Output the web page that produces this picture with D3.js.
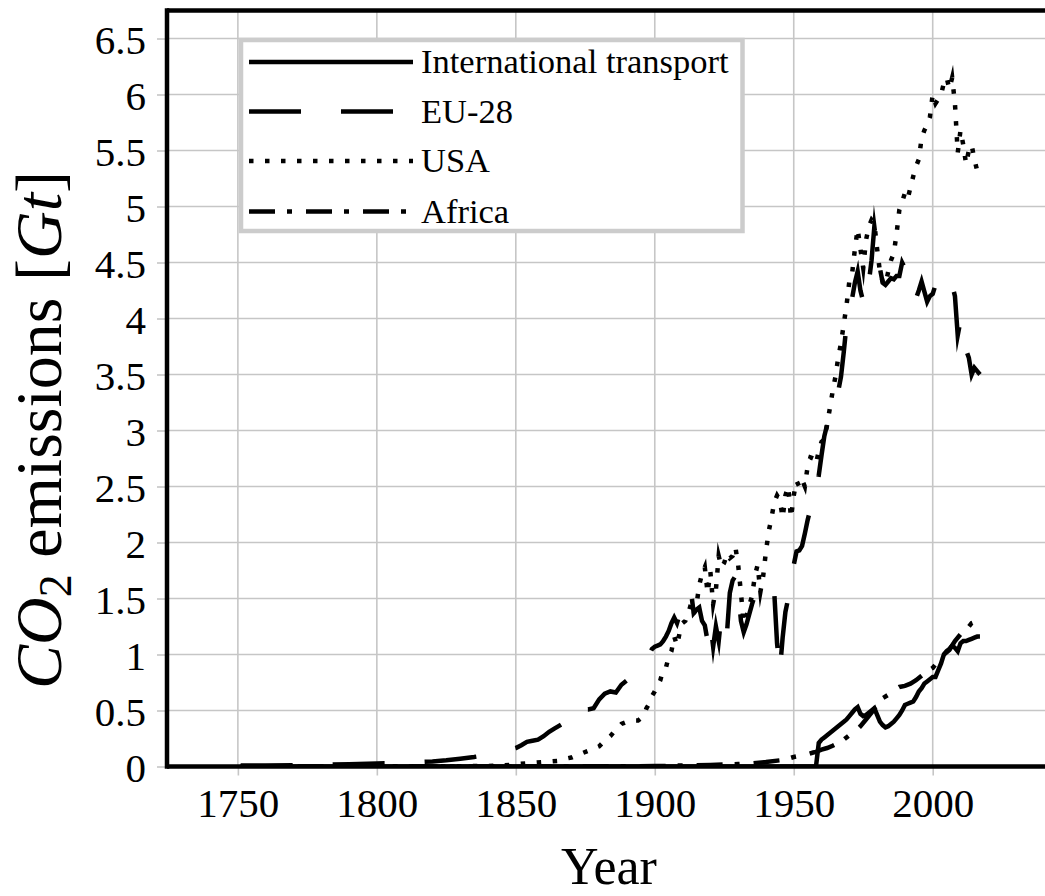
<!DOCTYPE html>
<html><head><meta charset="utf-8">
<script src="https://cdn.jsdelivr.net/npm/d3@7"></script>
<style>html,body{margin:0;padding:0;background:#fff;}svg{display:block;}</style>
</head><body>
<svg id="chart" width="1045" height="896"></svg>
<script>
// ---------------- data ----------------
const xTicks = [1750, 1800, 1850, 1900, 1950, 2000];
const yTicks = [0, 0.5, 1, 1.5, 2, 2.5, 3, 3.5, 4, 4.5, 5, 5.5, 6, 6.5];
const seriesNames = ["International transport", "EU-28", "USA", "Africa"];

const transportYears = [1751, 1958, 1959, 1960, 1961, 1962, 1963, 1964, 1965, 1966, 1967, 1968, 1969, 1970, 1971, 1972, 1973, 1974, 1975, 1976, 1977, 1978, 1979, 1980, 1981, 1982, 1983, 1984, 1985, 1986, 1987, 1988, 1989, 1990, 1991, 1992, 1993, 1994, 1995, 1996, 1997, 1998, 1999, 2000, 2001, 2002, 2003, 2004, 2005, 2006, 2007, 2008, 2009, 2010, 2011, 2012, 2013, 2014, 2015, 2016, 2017];
const transportValues = [0, 0, 0.21, 0.24, 0.26, 0.28, 0.30, 0.32, 0.34, 0.36, 0.38, 0.40, 0.42, 0.45, 0.48, 0.51, 0.53, 0.47, 0.45, 0.46, 0.48, 0.50, 0.52, 0.46, 0.40, 0.37, 0.35, 0.36, 0.38, 0.40, 0.43, 0.46, 0.50, 0.55, 0.56, 0.57, 0.58, 0.62, 0.67, 0.70, 0.74, 0.76, 0.78, 0.80, 0.80, 0.86, 0.92, 1.00, 1.03, 1.05, 1.08, 1.06, 1.03, 1.10, 1.12, 1.12, 1.13, 1.14, 1.15, 1.16, 1.16];

const euYears = [1751, 1760, 1770, 1780, 1790, 1800, 1810, 1820, 1825, 1830, 1835, 1840, 1845, 1850, 1852, 1854, 1856, 1858, 1860, 1862, 1864, 1866, 1868, 1870, 1872, 1874, 1876, 1878, 1880, 1882, 1884, 1886, 1888, 1890, 1892, 1894, 1896, 1897, 1898, 1899,
  1900, 1901, 1902, 1903, 1904, 1905, 1906, 1907, 1908, 1909, 1910, 1911, 1912, 1913, 1914, 1915, 1916, 1917, 1918, 1919, 1920, 1921, 1922, 1923, 1924, 1925, 1926, 1927, 1928, 1929, 1930, 1931, 1932, 1933, 1934, 1935, 1936, 1937, 1938, 1939, 1940, 1941, 1942, 1943, 1944, 1945, 1946, 1947, 1948, 1949, 1950, 1951, 1952, 1953, 1954, 1955, 1956, 1957, 1958, 1959, 1960, 1961, 1962, 1963, 1964, 1965, 1966, 1967, 1968, 1969, 1970, 1971, 1972, 1973, 1974, 1975, 1976, 1977, 1978, 1979, 1980, 1981, 1982, 1983, 1984, 1985, 1986, 1987, 1988, 1989, 1990, 1991, 1992, 1993, 1994, 1995, 1996, 1997, 1998, 1999, 2000, 2001, 2002, 2003, 2004, 2005, 2006, 2007, 2008, 2009, 2010, 2011, 2012, 2013, 2014, 2015, 2016, 2017];
const euValues = [0.009, 0.010, 0.012, 0.015, 0.020, 0.027, 0.032, 0.045, 0.055, 0.070, 0.085, 0.105, 0.130, 0.165, 0.19, 0.22, 0.23, 0.24, 0.27, 0.31, 0.34, 0.37, 0.40, 0.49, 0.44, 0.51, 0.51, 0.52, 0.60, 0.65, 0.67, 0.66, 0.73, 0.77, 0.80, 0.84, 0.90, 0.95, 1.00, 1.05,
  1.07, 1.08, 1.09, 1.12, 1.16, 1.21, 1.28, 1.33, 1.28, 1.36, 1.42, 1.45, 1.50, 1.57, 1.37, 1.40, 1.42, 1.30, 1.26, 1.12, 1.28, 1.07, 1.25, 1.12, 1.36, 1.33, 1.20, 1.55, 1.66, 1.70, 1.58, 1.30, 1.20, 1.27, 1.36, 1.45, 1.53, 1.62, 1.60, 1.62, 1.60, 1.60, 1.58, 1.55, 1.10, 0.85, 1.15, 1.38, 1.50, 1.65, 1.80, 1.92, 1.93, 1.97, 2.08, 2.20, 2.30, 2.35, 2.45, 2.60, 2.78, 2.95, 3.05, 3.15, 3.25, 3.30, 3.35, 3.48, 3.70, 3.95, 4.12, 4.18, 4.32, 4.42, 4.25, 4.15, 4.35, 4.32, 4.52, 4.82, 4.62, 4.45, 4.32, 4.30, 4.33, 4.36, 4.35, 4.38, 4.38, 4.50, 4.45, 4.40, 4.30, 4.18, 4.18, 4.25, 4.33, 4.24, 4.15, 4.20, 4.22, 4.30, 4.26, 4.34, 4.36, 4.33, 4.33, 4.30, 4.20, 3.85, 3.98, 3.76, 3.72, 3.65, 3.50, 3.56, 3.53, 3.50];

const usaYears = [1800, 1820, 1830, 1840, 1845, 1850, 1855, 1860, 1865, 1868, 1870, 1872, 1874, 1876, 1878, 1880, 1882, 1884, 1886, 1888, 1890, 1892, 1894, 1896, 1897, 1898, 1899,
  1900, 1901, 1902, 1903, 1904, 1905, 1906, 1907, 1908, 1909, 1910, 1911, 1912, 1913, 1914, 1915, 1916, 1917, 1918, 1919, 1920, 1921, 1922, 1923, 1924, 1925, 1926, 1927, 1928, 1929, 1930, 1931, 1932, 1933, 1934, 1935, 1936, 1937, 1938, 1939, 1940, 1941, 1942, 1943, 1944, 1945, 1946, 1947, 1948, 1949, 1950, 1951, 1952, 1953, 1954, 1955, 1956, 1957, 1958, 1959, 1960, 1961, 1962, 1963, 1964, 1965, 1966, 1967, 1968, 1969, 1970, 1971, 1972, 1973, 1974, 1975, 1976, 1977, 1978, 1979, 1980, 1981, 1982, 1983, 1984, 1985, 1986, 1987, 1988, 1989, 1990, 1991, 1992, 1993, 1994, 1995, 1996, 1997, 1998, 1999, 2000, 2001, 2002, 2003, 2004, 2005, 2006, 2007, 2008, 2009, 2010, 2011, 2012, 2013, 2014, 2015, 2016, 2017];
const usaValues = [0.0003, 0.001, 0.002, 0.005, 0.008, 0.02, 0.03, 0.04, 0.05, 0.07, 0.08, 0.10, 0.12, 0.14, 0.16, 0.18, 0.23, 0.27, 0.33, 0.38, 0.40, 0.41, 0.41, 0.45, 0.52, 0.56, 0.63,
  0.67, 0.72, 0.77, 0.86, 0.88, 0.98, 1.03, 1.16, 1.08, 1.20, 1.28, 1.30, 1.36, 1.45, 1.36, 1.44, 1.62, 1.72, 1.78, 1.55, 1.74, 1.45, 1.58, 1.88, 1.78, 1.82, 1.90, 1.86, 1.88, 1.96, 1.80, 1.55, 1.28, 1.34, 1.44, 1.52, 1.70, 1.80, 1.56, 1.70, 1.92, 2.10, 2.22, 2.36, 2.42, 2.38, 2.22, 2.42, 2.50, 2.22, 2.42, 2.55, 2.50, 2.56, 2.50, 2.68, 2.76, 2.75, 2.70, 2.82, 2.90, 2.92, 3.05, 3.20, 3.35, 3.48, 3.65, 3.78, 3.95, 4.12, 4.33, 4.40, 4.62, 4.80, 4.62, 4.45, 4.70, 4.82, 4.88, 4.85, 4.62, 4.42, 4.33, 4.30, 4.42, 4.52, 4.58, 4.76, 4.97, 5.04, 5.12, 5.07, 5.17, 5.27, 5.36, 5.42, 5.61, 5.68, 5.73, 5.80, 6.00, 5.92, 5.96, 6.00, 6.10, 6.15, 6.05, 6.15, 5.92, 5.48, 5.68, 5.55, 5.38, 5.50, 5.55, 5.42, 5.32, 5.28];

const africaYears = [1751, 1880, 1890, 1900, 1905, 1910, 1915, 1920, 1925, 1930, 1935, 1940, 1945, 1948, 1950, 1952, 1955, 1957, 1958, 1960, 1962, 1964, 1966, 1968, 1970, 1972, 1974, 1976, 1978, 1980, 1982, 1984, 1986, 1988, 1990, 1992, 1994, 1996, 1998, 2000, 2002, 2004, 2006, 2008, 2010, 2012, 2014, 2016, 2017];
const africaValues = [0, 0.001, 0.002, 0.004, 0.006, 0.009, 0.011, 0.014, 0.018, 0.022, 0.028, 0.04, 0.055, 0.07, 0.085, 0.095, 0.11, 0.125, 0.13, 0.15, 0.165, 0.185, 0.21, 0.24, 0.28, 0.31, 0.36, 0.42, 0.48, 0.55, 0.61, 0.64, 0.68, 0.71, 0.72, 0.74, 0.77, 0.81, 0.85, 0.88, 0.94, 1.00, 1.04, 1.12, 1.18, 1.22, 1.28, 1.30, 1.33];

// ---------------- chart ----------------
const W = 1045, H = 896;
const P = {left: 167, right: 1050, top: 10.5, bottom: 766.5};
const svg = d3.select("#chart");
const FONT = "'Liberation Serif', 'Times New Roman', serif";
const GRID = "#c6c6c6";

const x = d3.scaleLinear().domain([1724.5, 2042.2]).range([P.left, P.right]);
const y = d3.scaleLinear().domain([0, 6.75]).range([P.bottom, P.top]);

svg.append("defs").append("clipPath").attr("id", "clip")
  .append("rect").attr("x", P.left).attr("y", P.top)
  .attr("width", P.right - P.left).attr("height", P.bottom - P.top);

// grid
const grid = svg.append("g");
grid.selectAll(".vg").data(xTicks).join("line")
  .attr("x1", d => x(d)).attr("x2", d => x(d)).attr("y1", P.top).attr("y2", P.bottom)
  .attr("stroke", GRID).attr("stroke-width", 1.6);
grid.selectAll(".hg").data(yTicks).join("line")
  .attr("y1", d => y(d)).attr("y2", d => y(d)).attr("x1", P.left).attr("x2", P.right)
  .attr("stroke", GRID).attr("stroke-width", 1.6);

// axes
const fmt = d => String(d);
const xAxis = svg.append("g").attr("transform", `translate(0,${P.bottom})`)
  .call(d3.axisBottom(x).tickValues(xTicks).tickFormat(fmt).tickSize(9).tickSizeOuter(0));
const yAxis = svg.append("g").attr("transform", `translate(${P.left},0)`)
  .call(d3.axisLeft(y).tickValues(yTicks).tickFormat(fmt).tickSize(10).tickSizeOuter(0));
[xAxis, yAxis].forEach(a => {
  a.select(".domain").remove();
  a.selectAll(".tick line").attr("stroke", GRID).attr("stroke-width", 1.6);
  a.selectAll("text").attr("font-family", FONT).attr("font-size", 41).attr("fill", "#000");
});
xAxis.selectAll("text").attr("y", 50.5).attr("dy", 0);
yAxis.selectAll("text").attr("x", -21).attr("dy", 0).attr("y", 14.5);

// lines
const styles = [{dash: null}, {dash: "52,40"}, {dash: "4.5,11.5"}, {dash: "26,12,5,14"}];
const series = [
  {years: transportYears, values: transportValues},
  {years: euYears, values: euValues},
  {years: usaYears, values: usaValues},
  {years: africaYears, values: africaValues}
];
const line = d3.line().x(d => x(d[0])).y(d => y(d[1]));
const lg = svg.append("g").attr("clip-path", "url(#clip)");
series.forEach((s, i) => {
  const pts = s.years.map((yr, k) => [yr, s.values[k]]);
  lg.append("path").attr("d", line(pts))
    .attr("fill", "none").attr("stroke", "#000").attr("stroke-width", 4.5)
    .attr("stroke-linejoin", "miter").attr("stroke-miterlimit", 10)
    .attr("stroke-linecap", "butt")
    .attr("stroke-dasharray", styles[i].dash);
});

// spines
const sp = svg.append("g").attr("stroke", "#000").attr("stroke-width", 4.5).attr("fill", "none");
sp.append("line").attr("x1", P.left).attr("x2", P.left).attr("y1", P.top - 2.25).attr("y2", P.bottom + 2.25);
sp.append("line").attr("x1", P.left).attr("x2", P.right).attr("y1", P.bottom).attr("y2", P.bottom);
sp.append("line").attr("x1", P.left).attr("x2", P.right).attr("y1", P.top).attr("y2", P.top);
sp.append("line").attr("x1", P.right).attr("x2", P.right).attr("y1", P.top).attr("y2", P.bottom);

// legend
const leg = svg.append("g");
leg.append("rect").attr("x", 241).attr("y", 40).attr("width", 501.5).attr("height", 191)
  .attr("fill", "#fff").attr("stroke", "#cccccc").attr("stroke-width", 4.5);
const rowY = [62, 111.5, 161, 211.5];
seriesNames.forEach((name, i) => {
  leg.append("line").attr("x1", 249).attr("x2", 413).attr("y1", rowY[i]).attr("y2", rowY[i])
    .attr("stroke", "#000").attr("stroke-width", 4.5).attr("stroke-linecap", "butt")
    .attr("stroke-dasharray", styles[i].dash);
  leg.append("text").attr("x", 421).attr("y", rowY[i] + 11)
    .attr("font-family", FONT).attr("font-size", 34.5).text(name);
});

// axis titles
svg.append("text").attr("x", 609).attr("y", 884).attr("text-anchor", "middle")
  .attr("font-family", FONT).attr("font-size", 52).text("Year");

const yl = svg.append("text").attr("transform", "translate(61,430) rotate(-90)")
  .attr("text-anchor", "middle").attr("font-family", FONT).attr("font-size", 66);
yl.append("tspan").attr("font-style", "italic").text("CO");
yl.append("tspan").attr("font-size", 46).attr("dy", 10).text("2");
yl.append("tspan").attr("dy", -10).text(" emissions [");
yl.append("tspan").attr("font-style", "italic").text("Gt");
yl.append("tspan").text("]");
</script>
</body></html>
